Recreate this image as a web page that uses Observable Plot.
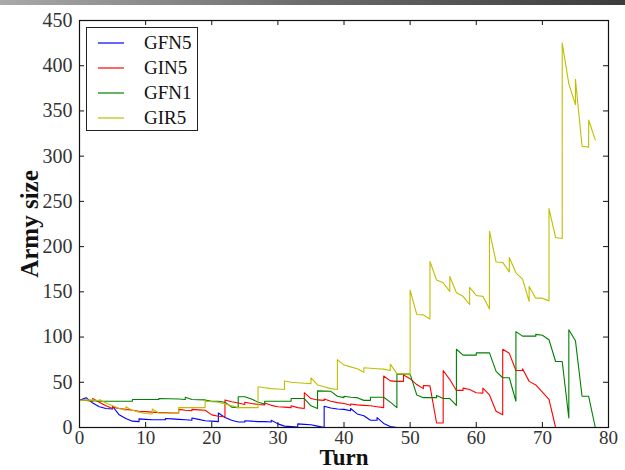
<!DOCTYPE html>
<html>
<head>
<meta charset="utf-8">
<script src="https://cdn.jsdelivr.net/npm/d3@7"></script>
<script src="https://cdn.jsdelivr.net/npm/@observablehq/plot@0.6"></script>
<style>
  html, body { margin: 0; padding: 0; background: white; }
  #wrap { position: relative; width: 625px; height: 470px; overflow: hidden; }
  #topbar { position: absolute; left: 0; top: 0; width: 625px; height: 5px;
            background: linear-gradient(to right, #a9a9a9, #6a6a6a 50%, #3c3c3c); z-index: 2; }
  #legend { position: absolute; left: 86px; top: 27px; width: 112px; height: 104px;
            border: 1px solid #222; background: white; box-sizing: border-box; padding-top: 2px;
            font-family: 'Liberation Serif', 'DejaVu Serif', serif; font-size: 19px; color: #111; }
  .row { display: flex; align-items: center; height: 25px; }
  .sw { display: block; margin-left: 11px; }
  .lb { margin-left: 20px; }
</style>
</head>
<body>
<div id="wrap"><div id="topbar"></div></div>
<script>
// ---- data: [turn, army size] ----
const seriesNames = ["GFN5", "GIN5", "GFN1", "GIR5"];
const seriesColors = ["#0000ff", "#ff0000", "#008000", "#bfbf00"];
const xTicks = [0, 10, 20, 30, 40, 50, 60, 70, 80];
const yTicks = [0, 50, 100, 150, 200, 250, 300, 350, 400, 450];

const gfn5 = [[0,30],[1,33],[2,27],[3,23],[4,21],[5,20.5],[5,23.5],[6,14],[7,10],[8,7],[9,6.5],[9,9.5],
  [10,9],[11,8.5],[12,8.5],[13,8.5],[13,10],[14,9.5],[15,9],[16,8.5],[17,8],[17,10.5],[18,9],[19,7.5],
  [20,7],[21,6.5],[21,16],[22,11],[23,8],[24,6],[25,6],[25,7.5],[26,7],[27,6.5],[28,6.5],[29,6],[29,8],
  [30,4],[31,1.5],[32,1],[33,0.5],[33,4],[34,3.5],[35,3],[36,1.5],[37,0],[37,23.5],[38,21.5],[39,20.5],
  [40,20],[41,18.5],[41,21],[42,15],[43,13],[44,8],[45,8],[45,11],[46,4.5],[47,1],[48,0]];

const gin5 = [[0,30],[1,30],[2,29],[2,32],[3,28],[4,24],[5,21],[5,22.5],[6,21],[7,20],[8,19],[9,18],
  [10,17.5],[11,17],[12,16.5],[13,16.5],[14,16],[15,16],[15,20],[16,19],[17,18.5],[17,20],[18,19.5],[19,19],
  [20,14],[21,12.5],[22,12],[22,30.5],[23,28.5],[24,27],[25,25.5],[25,28],[26,26.5],[27,25.5],[28,25],[28,27],
  [29,24.5],[30,23],[31,22.5],[32,22],[32,24],[33,22],[34,21],[34,38.5],[35,32],[36,30.5],[37,30],[37,31.5],
  [38,29],[39,27.5],[40,26.5],[41,24.5],[41,26],[42,25],[43,24.5],[44,24],[45,23],[46,22],[46,57],[47,51.5],
  [48,51],[49,51],[49,58],[50,54],[51,47.5],[52,43],[52,46.5],[53,46],[54,5],[55,5],[55,63],[56,53],[57,41],
  [58,41],[58,43.5],[59,42],[60,38.5],[61,38],[61,43.5],[62,36],[63,18],[64,14],[64,86.5],[65,82],[66,63],
  [67,63],[67,65],[68,51],[69,47],[70,39],[71,31],[72,0]];

const gfn1 = [[0,30],[1,30],[2,29.5],[3,29],[8,29],[8,31],[12,31],[12,32],[15,31.5],[16,31],[16,33.5],[17,31],
  [19,30.5],[20,29],[21,29],[22,28],[23,22.5],[24,22],[24,34],[25,34],[26,31.5],[27,28],[28,26],[28,29],
  [32,29],[32,32],[34,32],[35,24],[36,21],[36,40.5],[38,40],[39,34.5],[40,33],[40,34.5],[41,33.5],[42,33],
  [43,30],[44,30],[44,33.5],[46,33.5],[47,28],[48,22],[48,59],[50,59],[51,36],[52,33],[54,33],[54,35.5],
  [55,32],[56,32],[57,24.5],[57,86.5],[58,80],[60,80],[60,82.5],[62,82.5],[63,62],[64,55],[65,55],[66,29],
  [66,106],[67,101],[69,101],[69,103],[70,102],[71,97],[72,73],[73,73],[74,10.5],[74,108],[75,96],[76,34.5],
  [77,34.5],[78,0]];

const gir5 = [[0,30],[2,30.5],[3,29.5],[3,31],[4,27],[5,24],[6,21],[7,19],[7,23],[8,19],[9,17],[10,15.5],
  [11,15],[11,20.5],[12,16],[15,16],[15,22],[19,22],[19,29],[20,28.5],[21,28],[22,26],[23,24],[24,22],[27,22],
  [27,45],[28,44],[29,43],[30,42.5],[31,42],[31,51.5],[32,50],[33,49.5],[34,49],[35,48.5],[35,55],[36,47],
  [37,45],[38,43],[39,42],[39,75],[40,69],[41,67],[42,65],[43,61],[43,66],[44,65.5],[45,65],[46,64.5],[47,63],
  [47,70],[48,59.5],[49,59.5],[50,58],[50,152],[51,125],[52,124.5],[53,120],[53,183.5],[54,163],[55,160],
  [56,150.5],[56,167],[57,149],[58,145],[59,136],[59,155],[60,146],[61,145],[62,131],[62,217],[63,183],
  [64,182.5],[65,172],[65,188],[66,171],[67,164],[68,139.5],[68,156],[69,143],[70,143],[71,140],[71,242],
  [72,210],[73,209],[73,425],[74,380],[75,357],[75,385],[76,311],[77,310],[77,340],[78,318]];

const allSeries = [gfn5, gin5, gfn1, gir5];

const font = "Liberation Serif, DejaVu Serif, serif";
const frameW = 625 - 79 - 17, frameH = 470 - 20 - 43, tickLen = 5;

const chart = Plot.plot({
  width: 625, height: 470,
  marginLeft: 79, marginRight: 17, marginTop: 20, marginBottom: 43,
  style: {fontFamily: font, background: "white", color: "#222"},
  x: {domain: [0, 80]},
  y: {domain: [0, 450]},
  marks: [
    ...allSeries.map((s, i) => Plot.line(s, {x: d => d[0], y: d => d[1], stroke: seriesColors[i], strokeWidth: 1.1})),
    Plot.frame({stroke: "#111", strokeWidth: 1.2}),
    Plot.tickX(xTicks, {x: d => d, insetTop: frameH - tickLen, stroke: "#111"}),
    Plot.tickX(xTicks, {x: d => d, insetBottom: frameH - tickLen, stroke: "#111"}),
    Plot.tickY(yTicks, {y: d => d, insetRight: frameW - tickLen, stroke: "#111"}),
    Plot.tickY(yTicks, {y: d => d, insetLeft: frameW - tickLen, stroke: "#111"}),
    Plot.axisX(xTicks, {tickSize: 0, tickPadding: 3, fontSize: 19, fontFamily: font, label: null, fill: "#333"}),
    Plot.axisY(yTicks, {tickSize: 0, tickPadding: 7, fontSize: 20, fontFamily: font, label: null, fill: "#333"}),
    Plot.text(["Turn"], {frameAnchor: "bottom", lineAnchor: "middle", dy: 30, fontSize: 23, fontFamily: font, fontWeight: "bold", fill: "#111"}),
    Plot.text(["Army size"], {frameAnchor: "left", textAnchor: "middle", lineAnchor: "middle", dx: -50, rotate: -90, fontSize: 25, fontFamily: font, fontWeight: "bold", fill: "#111"})
  ]
});
chart.style.position = "absolute";
chart.style.left = "0px";
chart.style.top = "0px";
const wrap = document.getElementById("wrap");
wrap.appendChild(chart);

const legend = document.createElement("div");
legend.id = "legend";
const svgNS = "http://www.w3.org/2000/svg";
seriesNames.forEach((name, i) => {
  const row = document.createElement("div");
  row.className = "row";
  const sw = document.createElementNS(svgNS, "svg");
  sw.setAttribute("width", "26");
  sw.setAttribute("height", "4");
  sw.setAttribute("class", "sw");
  const ln = document.createElementNS(svgNS, "line");
  ln.setAttribute("x1", "0"); ln.setAttribute("x2", "26");
  ln.setAttribute("y1", "2"); ln.setAttribute("y2", "2");
  ln.setAttribute("stroke", seriesColors[i]);
  ln.setAttribute("stroke-width", "1.2");
  sw.appendChild(ln);
  const lb = document.createElement("span");
  lb.className = "lb";
  lb.textContent = name;
  row.appendChild(sw);
  row.appendChild(lb);
  legend.appendChild(row);
});
wrap.appendChild(legend);
</script>
</body>
</html>
